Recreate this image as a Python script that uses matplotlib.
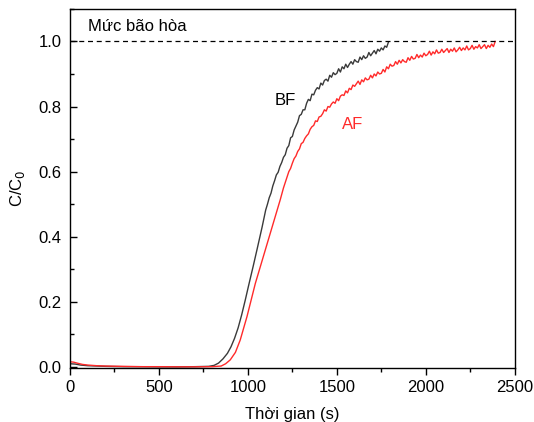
import matplotlib
matplotlib.use("Agg")
from matplotlib import pyplot as plt
from matplotlib.ticker import MultipleLocator

plt.rcParams['font.family'] = ['Liberation Sans', 'DejaVu Sans']

# BF curve, smooth part then noisy part every 10 s
bf_t = [0, 30, 60, 100, 150, 200, 300, 400, 500, 600, 700, 780, 810, 835, 860, 885, 905, 925,
        945, 965, 985, 1004, 1030, 1051, 1080] + list(range(1100, 1800, 10))
bf_c = [0.010, 0.009, 0.006, 0.004, 0.003, 0.002, 0.001, 0.001, 0.0005, 0.0005, 0.001, 0.002,
        0.005, 0.012, 0.025, 0.042, 0.062, 0.088, 0.12, 0.16, 0.205, 0.25, 0.31, 0.36, 0.43,
        0.482, 0.50, 0.52, 0.534, 0.556, 0.572, 0.59, 0.598, 0.616, 0.628,
        0.644, 0.652, 0.672, 0.68, 0.704, 0.708, 0.728, 0.74, 0.752, 0.772,
        0.776, 0.79, 0.79, 0.81, 0.822, 0.818, 0.838, 0.836, 0.85, 0.858,
        0.854, 0.872, 0.866, 0.88, 0.884, 0.878, 0.896, 0.89, 0.904, 0.898,
        0.902, 0.916, 0.906, 0.922, 0.916, 0.93, 0.92, 0.93, 0.938, 0.93,
        0.944, 0.938, 0.936, 0.952, 0.944, 0.956, 0.948, 0.952, 0.966, 0.956,
        0.964, 0.972, 0.962, 0.976, 0.97, 0.98, 0.974, 0.986, 0.982, 0.998]

# AF curve
af_t = [0, 20, 40, 70, 100, 150, 200, 300, 400, 500, 600, 700, 800, 850, 875, 901, 930, 957,
        995, 1042, 1098, 1154, 1182, 1200] + list(range(1220, 2400, 10))
af_c = [0.016, 0.015, 0.012, 0.008, 0.006, 0.004, 0.003, 0.002, 0.001, 0.001, 0.0005, 0.0005,
        0.001, 0.003, 0.01, 0.022, 0.045, 0.083, 0.155, 0.257, 0.36, 0.462, 0.514, 0.55,
        0.584, 0.6, 0.61, 0.626, 0.64, 0.648, 0.662, 0.67,
        0.686, 0.69, 0.702, 0.71, 0.716, 0.73, 0.738, 0.742, 0.756, 0.754,
        0.768, 0.77, 0.778, 0.79, 0.786, 0.8, 0.798, 0.808, 0.814, 0.81,
        0.824, 0.818, 0.832, 0.836, 0.834, 0.848, 0.842, 0.856, 0.852, 0.866,
        0.862, 0.87, 0.878, 0.868, 0.882, 0.876, 0.888, 0.882, 0.884, 0.896,
        0.888, 0.9, 0.894, 0.906, 0.9, 0.902, 0.914, 0.906, 0.922, 0.916,
        0.93, 0.924, 0.926, 0.938, 0.93, 0.942, 0.934, 0.944, 0.938, 0.936,
        0.95, 0.942, 0.954, 0.946, 0.948, 0.96, 0.95, 0.958, 0.952, 0.964,
        0.956, 0.96, 0.97, 0.958, 0.968, 0.962, 0.974, 0.964, 0.966, 0.976,
        0.966, 0.972, 0.978, 0.966, 0.976, 0.97, 0.98, 0.968, 0.974, 0.982,
        0.972, 0.98, 0.974, 0.986, 0.974, 0.978, 0.988, 0.976, 0.984, 0.98,
        0.99, 0.978, 0.984, 0.99, 0.978, 0.988, 0.982, 0.992, 0.984, 1.0]

fig = plt.figure(figsize=(5.34, 4.22), dpi=100)
ax = fig.add_axes([0.131, 0.128, 0.833, 0.851])

ax.plot(bf_t, bf_c, color='#3a3a3a', lw=1.0)
ax.plot(af_t, af_c, color='#ff2a2a', lw=1.0)
ax.axhline(1.0, color='black', ls=(0, (4, 3)), lw=0.9)

ax.text(100, 1.045, 'Mức bão hòa', fontsize=12, va='center', ha='left')
ax.text(1210, 0.82, 'BF', fontsize=12, color='black', ha='center', va='center')
ax.text(1590, 0.745, 'AF', fontsize=12, color='#ff2a2a', ha='center', va='center')

ax.set_xlim(0, 2500)
ax.set_ylim(-0.003, 1.1)
ax.xaxis.set_major_locator(MultipleLocator(500))
ax.xaxis.set_minor_locator(MultipleLocator(250))
ax.yaxis.set_minor_locator(MultipleLocator(0.1))
ax.set_yticks([0, 0.2, 0.4, 0.6, 0.8, 1.0])
ax.set_yticklabels(['0.0', '0.2', '0.4', '0.6', '0.8', '1.0'])

ax.tick_params(axis='x', which='both', direction='out', labelsize=12, width=1, pad=4)
ax.tick_params(axis='x', which='major', length=5)
ax.tick_params(axis='x', which='minor', length=3)
ax.tick_params(axis='y', which='both', direction='in', labelsize=12, width=1, pad=6)
ax.tick_params(axis='y', which='major', length=5)
ax.tick_params(axis='y', which='minor', length=3)
for s in ax.spines.values():
    s.set_linewidth(1.0)

ax.set_xlabel('Thời gian (s)', fontsize=12, labelpad=8)
ax.set_ylabel('C/C$_0$', fontsize=12, labelpad=8)

fig.savefig('out.png', dpi=100)
